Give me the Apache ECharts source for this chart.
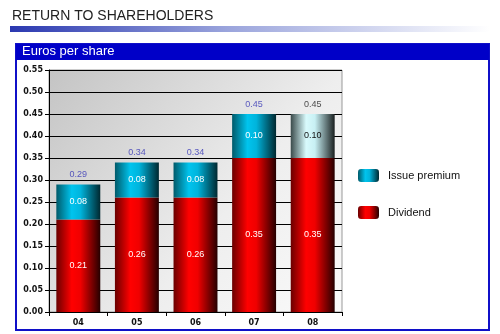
<!DOCTYPE html>
<html><head><meta charset="utf-8">
<script src="https://cdn.jsdelivr.net/npm/echarts@6/dist/echarts.min.js"></script>
<style>html,body{margin:0;padding:0;background:#fff}#c{width:500px;height:334px}</style>
</head><body><div id="c"></div>
<script>
const categories = ['04','05','06','07','08'];
const dividend = [0.21,0.26,0.26,0.35,0.35];
const premium = [0.08,0.08,0.08,0.10,0.10];
const totals = [0.29,0.34,0.34,0.45,0.45];

const G = echarts.graphic.LinearGradient;
const redGrad = new G(0,0,1,0,[{offset:0,color:'#6a0000'},{offset:0.35,color:'#ff0000'},{offset:0.55,color:'#f00000'},{offset:1,color:'#250000'}]);
const cyanGrad = new G(0,0,1,0,[{offset:0,color:'#005a6a'},{offset:0.35,color:'#00c4ee'},{offset:0.55,color:'#00b4dc'},{offset:1,color:'#002830'}]);
const paleGrad = new G(0,0,1,0,[{offset:0,color:'#3a4a4a'},{offset:0.35,color:'#d8fafc'},{offset:0.55,color:'#c8f0f4'},{offset:1,color:'#1a2020'}]);

const chart = echarts.init(document.getElementById('c'));
chart.setOption({
  animation:false,
  textStyle:{fontFamily:'DejaVu Sans'},
  graphic:[
    {type:'text',left:12,top:9,style:{text:'RETURN TO SHAREHOLDERS',font:'14px "Liberation Sans", Arial',fill:'#222'}},
    {type:'rect',shape:{x:10,y:26,width:480,height:6},style:{fill:new G(0,0,1,0,[{offset:0,color:'#2a38b0'},{offset:0.45,color:'#9aa4dc'},{offset:1,color:'#ffffff'}])}},
    {type:'rect',shape:{x:16,y:44,width:473,height:286},style:{fill:'#fff',stroke:'#1010c8',lineWidth:2},z:-10},
    {type:'rect',shape:{x:16,y:44,width:473,height:16},style:{fill:'#0000c8'},z:-9},
    {type:'text',left:22,top:45,style:{text:'Euros per share',font:'13px "Liberation Sans", Arial',fill:'#fff'}}
  ],
  grid:{left:49,right:158,top:70,bottom:22,show:true,borderColor:'#999',borderWidth:1,
    backgroundColor:new G(0,0,1,1,[{offset:0,color:'#c4c4c4'},{offset:0.6,color:'#eeeeee'},{offset:1,color:'#fafafa'}])},
  legend:{orient:'vertical',left:353,top:164,itemWidth:21,itemHeight:13,itemGap:24,
    data:['Issue premium','Dividend'],
    itemStyle:{borderRadius:0},
    textStyle:{fontFamily:'"Liberation Sans", Arial',fontSize:11,color:'#111',padding:[0,0,0,4]}},
  xAxis:{type:'category',data:categories,
    axisLine:{lineStyle:{color:'#000'}},
    axisTick:{show:true,length:4,inside:false,lineStyle:{color:'#000'}},
    axisLabel:{fontWeight:'bold',fontSize:8,color:'#111',margin:7}},
  yAxis:{type:'value',min:0,max:0.55,interval:0.05,
    axisLine:{show:true,lineStyle:{color:'#000'}},
    axisTick:{show:true,length:4,lineStyle:{color:'#000'}},
    splitLine:{lineStyle:{color:'#000',width:1}},
    axisLabel:{fontWeight:'bold',fontSize:8,color:'#111',margin:6,formatter:v=>v.toFixed(2)}},
  series:[
    {name:'Dividend',type:'bar',stack:'s',barCategoryGap:'25%',data:dividend,
     itemStyle:{color:redGrad},
     label:{show:true,position:'inside',color:'#fff',fontSize:9,fontFamily:'"Liberation Sans", Arial',formatter:p=>p.value.toFixed(2)}},
    {name:'Issue premium',type:'bar',stack:'s',
     data:premium.map((v,i)=>i===4?{value:v,itemStyle:{color:paleGrad},label:{color:'#111'}}:v),
     itemStyle:{color:cyanGrad},
     label:{show:true,position:'inside',color:'#fff',fontSize:9,fontFamily:'"Liberation Sans", Arial',formatter:p=>p.value.toFixed(2)}},
    {name:'total',type:'scatter',symbolSize:0,silent:true,
     data:totals.map((v,i)=>i===4?{value:v,label:{color:'#222'}}:v),
     label:{show:true,position:'top',distance:5,color:'#3535b5',fontSize:9,fontFamily:'"Liberation Sans", Arial',formatter:p=>p.value.toFixed(2)}}
  ]
});
</script></body></html>
